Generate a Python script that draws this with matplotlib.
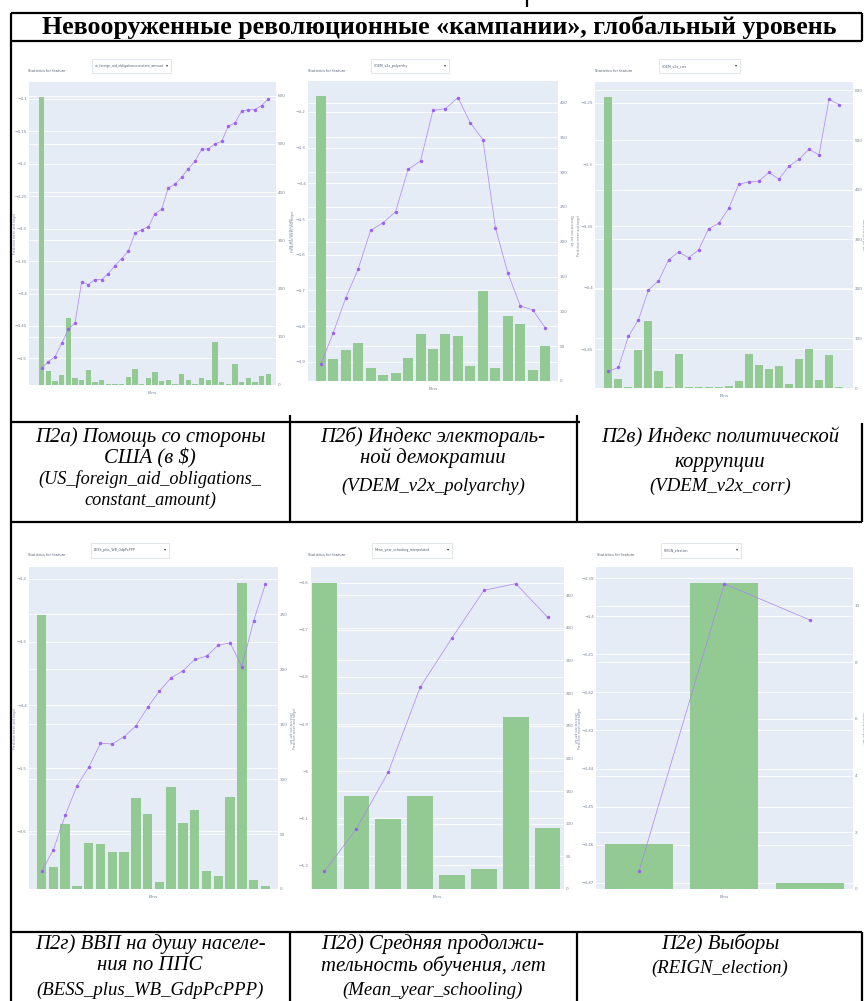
import matplotlib
matplotlib.use("Agg")
import matplotlib.pyplot as plt
from matplotlib.patches import Rectangle

W, H = 864, 1001

# ---- data ----
# П2а) US foreign aid
c1_counts = [597, 29, 8, 21, 138, 15, 10, 32, 7, 11, 3, 3, 3, 17, 33, 3, 15, 26,
             8, 10, 3, 23, 10, 3, 15, 10, 90, 6, 3, 43, 6, 15, 6, 18, 23]
c1_pred = [-4.5154, -4.5051, -4.4974, -4.4769, -4.4554, -4.4451, -4.3821, -4.3862,
           -4.3785, -4.3785, -4.3692, -4.3569, -4.3462, -4.3344, -4.3067, -4.3015,
           -4.2974, -4.2769, -4.2703, -4.2369, -4.2318, -4.2205, -4.2077, -4.1959,
           -4.1779, -4.1769, -4.1692, -4.1656, -4.1421, -4.1369, -4.1190, -4.1169,
           -4.1164, -4.1103, -4.1000]
# П2б) polyarchy
c2_counts = [409, 31, 45, 55, 19, 8, 11, 33, 68, 46, 67, 65, 22, 130, 19, 94, 82, 16, 51]
c2_pred = [-4.9068, -4.8190, -4.7210, -4.6398, -4.5315, -4.5100, -4.4792, -4.3606,
           -4.3373, -4.1953, -4.1907, -4.1599, -4.2308, -4.2775, -4.5240, -4.6510,
           -4.7434, -4.7546, -4.8050]
# П2в) corruption
c3_counts = [586, 19, 3, 77, 136, 34, 3, 68, 3, 3, 3, 3, 4, 15, 68, 47, 38, 44, 8,
             59, 79, 17, 66, 3]
c3_pred = [-4.4681, -4.4649, -4.4397, -4.4262, -4.4019, -4.3946, -4.3776, -4.3711,
           -4.3757, -4.3695, -4.3522, -4.3478, -4.3357, -4.3162, -4.3141, -4.3135,
           -4.3065, -4.3119, -4.3014, -4.2959, -4.2876, -4.2922, -4.2470, -4.2514]
# П2г) GDP per capita PPP
c4_counts = [249, 20, 59, 3, 42, 41, 34, 34, 83, 68, 6, 93, 60, 72, 16, 12, 84, 278, 8, 3]
c4_pred = [-4.6632, -4.6289, -4.5747, -4.5279, -4.4984, -4.4605, -4.4616, -4.4500,
           -4.4332, -4.4037, -4.3779, -4.3568, -4.3458, -4.3279, -4.3226, -4.3053,
           -4.3016, -4.3395, -4.2668, -4.2089]
# П2д) mean years of schooling
c5_counts = [469, 142, 107, 143, 22, 30, 263, 94]
c5_pred = [-5.2135, -5.1234, -5.0028, -4.8220, -4.7170, -4.6156, -4.6014, -4.6730]
# П2е) elections
c6_counts = [1.6, 10.8, 0.2]
c6_pred = [-4.467, -4.3915, -4.401]

features = ["us_foreign_aid_obligationsconstant_amount", "VDEM_v2x_polyarchy",
            "VDEM_v2x_corr", "BESS_plus_WB_GdpPcPPP",
            "Mean_year_schooling_interpolated", "REIGN_election"]

left_ticks = [
    [-4.1, -4.15, -4.2, -4.25, -4.3, -4.35, -4.4, -4.45, -4.5],
    [-4.2, -4.3, -4.4, -4.5, -4.6, -4.7, -4.8, -4.9],
    [-4.25, -4.3, -4.35, -4.4, -4.45],
    [-4.2, -4.3, -4.4, -4.5, -4.6],
    [-4.6, -4.7, -4.8, -4.9, -5.0, -5.1, -5.2],
    [-4.39, -4.4, -4.41, -4.42, -4.43, -4.44, -4.45, -4.46, -4.47],
]
right_ticks = [
    [0, 100, 200, 300, 400, 500, 600],
    [0, 50, 100, 150, 200, 250, 300, 350, 400],
    [0, 100, 200, 300, 400, 500, 600],
    [0, 50, 100, 150, 200, 250],
    [0, 50, 100, 150, 200, 250, 300, 350, 400, 450],
    [0, 2, 4, 6, 8, 10],
]

title = "Невооруженные революционные «кампании», глобальный уровень"
captions = [
    ["П2а) Помощь со стороны", "США (в $)", "(US_foreign_aid_obligations_", "constant_amount)"],
    ["П2б) Индекс электораль-", "ной демократии", "(VDEM_v2x_polyarchy)"],
    ["П2в) Индекс политической", "коррупции", "(VDEM_v2x_corr)"],
    ["П2г) ВВП на душу населе-", "ния по ППС", "(BESS_plus_WB_GdpPcPPP)"],
    ["П2д) Средняя продолжи-", "тельность обучения, лет", "(Mean_year_schooling)"],
    ["П2е) Выборы", "(REIGN_election)"],
]

# ---- layout (pixels) ----
panels = [
    dict(box=(29, 82, 276, 385), xlim=(-1.9, 35.15), yl=(-4.541, -4.074), yr=(0, 628),
         stat=(28, 71), dd=(92, 59, 171, 73), lab=(15, 289)),
    dict(box=(308, 81, 558, 381), xlim=(-1.02, 19.02), yl=(-4.9535, -4.1132), yr=(0, 431),
         stat=(308, 71), dd=(371, 59, 449, 73), lab=(293, 571)),
    dict(box=(595, 82, 853, 388), xlim=(-1.33, 24.39), yl=(-4.4816, -4.233), yr=(0, 617),
         stat=(595, 71), dd=(659, 59, 740, 73), lab=(579, 863)),
    dict(box=(29, 567, 278, 889), xlim=(-1.07, 20.07), yl=(-4.691, -4.1816), yr=(0, 293),
         stat=(28, 555), dd=(91, 543, 169, 558), lab=(15, 290)),
    dict(box=(311, 567, 564, 889), xlim=(-0.42, 7.51), yl=(-5.251, -4.566), yr=(0, 493),
         stat=(308, 555), dd=(372, 543, 452, 558), lab=(295, 575)),
    dict(box=(596, 567, 853, 889), xlim=(-0.503, 2.507), yl=(-4.4716, -4.3871), yr=(0, 11.36),
         stat=(597, 555), dd=(661, 543, 741, 558), lab=(580, 863)),
]
all_counts = [c1_counts, c2_counts, c3_counts, c4_counts, c5_counts, c6_counts]
all_pred = [c1_pred, c2_pred, c3_pred, c4_pred, c5_pred, c6_pred]

BG = "#e5ecf6"
GREEN = "#93c993"
PURPLE = "#ad82f3"
TICK = "#7a8699"

fig = plt.figure(figsize=(W / 100, H / 100), dpi=100)


def fmt(v):
    return f"{v:g}".replace("-", "\u2212")


for p, counts, pred, lt, rt in zip(panels, all_counts, all_pred, left_ticks, right_ticks):
    x0, y0, x1, y1 = p["box"]
    ax = fig.add_axes([x0 / W, 1 - y1 / H, (x1 - x0) / W, (y1 - y0) / H])
    ax.set_facecolor(BG)
    ax.set_xlim(*p["xlim"])
    ax.set_ylim(*p["yl"])
    ax.set_yticks(lt)
    ax.set_yticklabels([fmt(v) for v in lt])
    ax.set_xticks([])
    ax.grid(axis="y", color="white", lw=0.6)
    ax.tick_params(axis="y", length=0, labelsize=3, colors=TICK, pad=1.5)
    ax.set_xlabel("Bins", fontsize=3.2, color=TICK, labelpad=4)

    bx = ax.twinx()
    bx.set_ylim(*p["yr"])
    bx.set_yticks(rt)
    bx.set_yticklabels([fmt(v) for v in rt])
    bx.set_axisbelow(True)
    bx.grid(axis="y", color="white", lw=0.6)
    bx.tick_params(axis="y", length=0, labelsize=3, colors=TICK, pad=1.5)
    bx.bar(range(len(counts)), counts, width=0.8, color=GREEN, zorder=2)

    lx = ax.twinx()
    lx.set_ylim(*p["yl"])
    lx.axis("off")
    lx.plot(range(len(pred)), pred, color=PURPLE, lw=0.55, marker="o", ms=1.5,
            mfc="#9a5cf0", mec="#9a5cf0", alpha=0.9)

    for a in (ax, bx, lx):
        for s in a.spines.values():
            s.set_visible(False)

# ---- overlay: table frame, texts, widgets ----
ov = fig.add_axes([0, 0, 1, 1], zorder=10)
ov.set_xlim(0, W)
ov.set_ylim(H, 0)
ov.axis("off")
ov.patch.set_alpha(0)

for p, feat in zip(panels, features):
    x0, y0, x1, y1 = p["box"]
    lx_px, rx_px = p["lab"]
    ym = (y0 + y1) / 2
    ov.text(lx_px, ym, "Prediction mean and target", fontsize=2.2, color=TICK,
            rotation=90, ha="center", va="center")
    ov.text(rx_px, ym, "Observations per bin", fontsize=2.2, color=TICK,
            rotation=-90, ha="center", va="center")
    sx, sy = p["stat"]
    ov.text(sx, sy, "Statistics for feature", fontsize=2.6, color="#555f70", va="center")
    dx0, dy0, dx1, dy1 = p["dd"]
    ov.add_patch(Rectangle((dx0, dy0), dx1 - dx0, dy1 - dy0, fc="white", ec="#d5dbe5", lw=0.5))
    ov.text(dx0 + 3, (dy0 + dy1) / 2, feat, fontsize=2.3, color="#555f70", va="center")
    ov.text(dx1 - 3, (dy0 + dy1) / 2 - 1, "\u25be", fontsize=3, color="#333", va="center", ha="right")

lk = dict(color="black", lw=1.6, solid_capstyle="butt")
ov.plot([11, 862], [13, 13], **lk)
ov.plot([11, 862], [41, 41], **lk)
ov.plot([11, 11], [13, H], **lk)
ov.plot([862, 862], [13, 41], **lk)
ov.plot([862, 862], [423, 522], **lk)
ov.plot([862, 862], [932, H], **lk)
ov.plot([11, 580], [422, 422], **lk)
ov.plot([11, 862], [522, 522], **lk)
ov.plot([11, 862], [932, 932], **lk)
for xv in (290, 577):
    ov.plot([xv, xv], [415, 522], **lk)
    ov.plot([xv, xv], [932, H], **lk)
ov.plot([527, 527], [0, 7], **lk)

renderer = fig.canvas.get_renderer()


def fit_size(s, width, **kw):
    t = ov.text(0, 0, s, fontsize=10, **kw)
    w = t.get_window_extent(renderer).width
    t.remove()
    return 10 * width / w


serif = "Liberation Serif"
ts = fit_size(title, 812, family=serif, weight="bold") * 0.98
ov.text(439, 27, title, fontsize=ts, family=serif, weight="bold", ha="center", va="center")

cs = fit_size(captions[0][0], 268, family=serif, style="italic") * 0.86
ps = fit_size(captions[3][2], 265, family=serif, style="italic") * 0.86
us = fit_size(captions[0][2], 260, family=serif, style="italic") * 0.86

centers = [150, 433, 720]
row_y = [[437, 458, 479, 500], [437, 458, 486], [437, 462, 486],
         [944, 966, 990], [944, 966, 990], [944, 968]]
for i, (lines, ys) in enumerate(zip(captions, row_y)):
    cx = centers[i % 3]
    for j, (s, y) in enumerate(zip(lines, ys)):
        if s.startswith("(") or i == 0 and j == 3:
            size = us if i == 0 else ps
        else:
            size = cs
        ov.text(cx, y, s, fontsize=size, family=serif, style="italic",
                ha="center", va="center")

fig.savefig("out.png", dpi=100)
